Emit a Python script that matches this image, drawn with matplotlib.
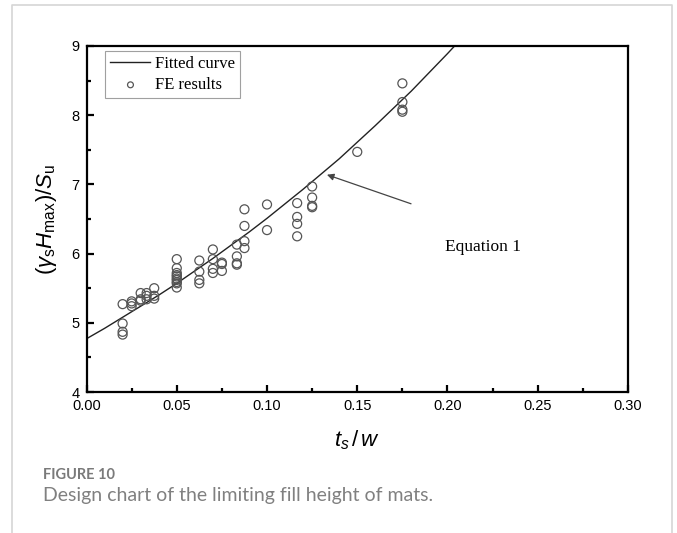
import matplotlib.pyplot as plt
import matplotlib as mpl
from matplotlib.lines import Line2D

# FE results
fe_x = [0.02, 0.02, 0.02, 0.02,
        0.025, 0.025, 0.025,
        0.03, 0.03, 0.03,
        0.0333, 0.0333, 0.0333,
        0.0375, 0.0375, 0.0375,
        0.05, 0.05, 0.05, 0.05, 0.05, 0.05, 0.05, 0.05, 0.05, 0.05,
        0.0625, 0.0625, 0.0625, 0.0625,
        0.07, 0.07, 0.07, 0.07,
        0.075, 0.075, 0.075,
        0.0833, 0.0833, 0.0833, 0.0833,
        0.0875, 0.0875, 0.0875, 0.0875,
        0.1, 0.1,
        0.1167, 0.1167, 0.1167, 0.1167,
        0.125, 0.125, 0.125, 0.125,
        0.15,
        0.175, 0.175, 0.175, 0.175]
fe_y = [5.27, 4.99, 4.87, 4.83,
        5.31, 5.28, 5.24,
        5.43, 5.34, 5.32,
        5.43, 5.39, 5.34,
        5.50, 5.39, 5.35,
        5.92, 5.79, 5.72, 5.69, 5.67, 5.64, 5.62, 5.59, 5.57, 5.51,
        5.90, 5.74, 5.62, 5.57,
        6.06, 5.92, 5.78, 5.72,
        5.87, 5.85, 5.75,
        6.13, 5.96, 5.86, 5.84,
        6.64, 6.40, 6.18, 6.08,
        6.71, 6.34,
        6.73, 6.53, 6.43, 6.25,
        6.97, 6.81, 6.69, 6.67,
        7.47,
        8.46, 8.19, 8.08, 8.05]

# fitted curve
fit_x = [0.0, 0.01, 0.02, 0.03, 0.04, 0.05, 0.06, 0.07, 0.08, 0.09, 0.10,
         0.11, 0.12, 0.13, 0.14, 0.15, 0.16, 0.17, 0.18, 0.19, 0.20, 0.21]
fit_y = [4.77, 4.92, 5.08, 5.24, 5.40, 5.57, 5.75, 5.93, 6.12, 6.31, 6.51,
         6.72, 6.93, 7.15, 7.37, 7.61, 7.85, 8.10, 8.35, 8.62, 8.89, 9.17]

xticks = [0.00, 0.05, 0.10, 0.15, 0.20, 0.25, 0.30]
yticks = [4, 5, 6, 7, 8, 9]

mpl.rcParams['font.family'] = 'Liberation Sans'
mpl.rcParams['mathtext.fontset'] = 'custom'
mpl.rcParams['mathtext.rm'] = 'Liberation Sans'
mpl.rcParams['mathtext.it'] = 'Liberation Sans:italic'

fig = plt.figure(figsize=(6.77, 5.33), dpi=100)

# light card border around the figure
fig.add_artist(Line2D([12/677, 12/677, 672/677, 672/677],
                      [-0.1, 1 - 5/533, 1 - 5/533, -0.1],
                      transform=fig.transFigure, color='#d6d6d6', lw=1.2))

ax = fig.add_axes([0.1278, 0.2645, 0.7998, 0.6492])

ax.plot(fit_x, fit_y, color='#222222', lw=1.0, label='Fitted curve')
ax.scatter(fe_x, fe_y, s=42, facecolors='none', edgecolors='#555555',
           linewidths=0.9, label='FE results', zorder=3)

ax.set_xlim(0, 0.30)
ax.set_ylim(4, 9)
ax.set_xticks(xticks)
ax.set_xticklabels([f'{v:.2f}' for v in xticks])
ax.set_yticks(yticks)
ax.set_xticks([0.025, 0.075, 0.125, 0.175, 0.225, 0.275], minor=True)
ax.set_yticks([4.5, 5.5, 6.5, 7.5, 8.5], minor=True)

for s in ax.spines.values():
    s.set_linewidth(1.6)
ax.tick_params(which='major', direction='in', length=5, width=1.6,
               labelsize=10.5, pad=5, top=False, right=False)
ax.tick_params(which='minor', direction='in', length=3, width=1.6,
               top=False, right=False)

ax.set_xlabel(r'$t_s\,/\,w$', fontsize=16, labelpad=11)
ax.set_ylabel(r'$(\gamma_{\rm s}H_{\rm max})/S_{\rm u}$', fontsize=16, labelpad=9)

leg = ax.legend(loc='upper left', bbox_to_anchor=(0.035, 0.985),
                prop={'family': 'Liberation Serif', 'size': 12},
                frameon=True, fancybox=False, edgecolor='#888888',
                handlelength=2.4, handletextpad=0.3, borderpad=0.3,
                labelspacing=0.3, markerscale=0.65, borderaxespad=0)
leg.get_frame().set_linewidth(0.8)

ax.annotate('', xy=(0.1332, 7.14), xytext=(0.1798, 6.72),
            arrowprops=dict(arrowstyle='-|>', color='#444444', lw=0.9,
                            mutation_scale=10, shrinkA=0, shrinkB=0))
ax.text(0.1986, 6.1, 'Equation 1', family='Liberation Serif', fontsize=12.5,
        va='center', ha='left')

fig.text(43/677, 1 - 475/533, 'FIGURE 10', family='Lato', weight='bold',
         fontsize=10.5, color='#7a7a7a', va='center', ha='left')
fig.text(43/677, 1 - 496/533, 'Design chart of the limiting fill height of mats.',
         family='Lato', fontsize=14, color='#808080', va='center', ha='left')

fig.savefig('out.png', dpi=100)
